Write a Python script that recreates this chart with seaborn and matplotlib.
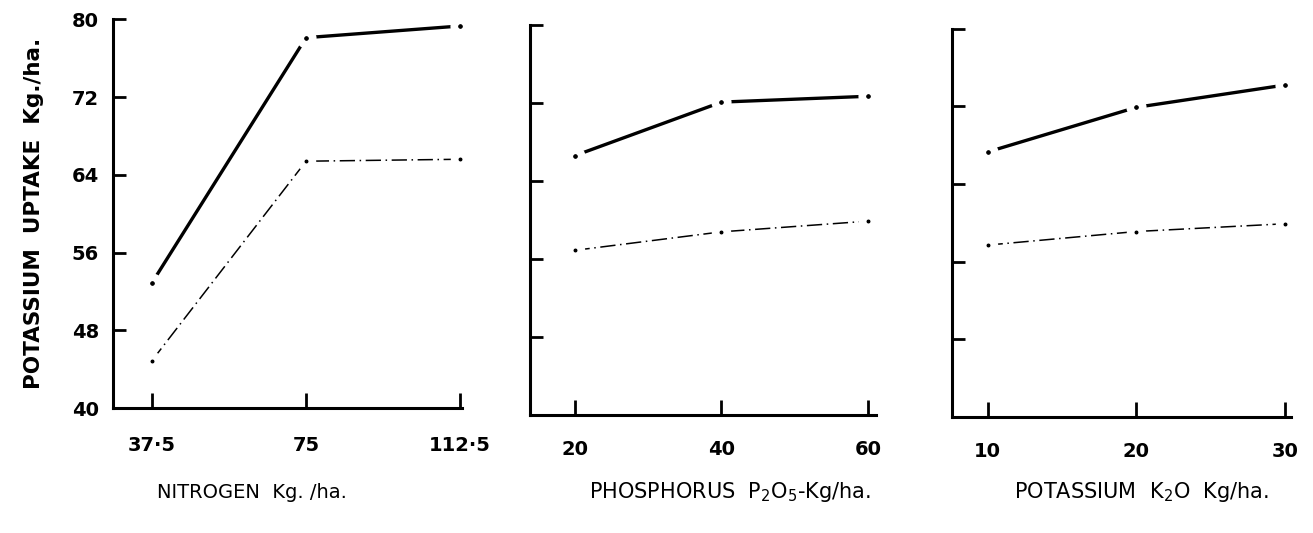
import numpy as np
import pandas as pd
import matplotlib
matplotlib.use("Agg")
import matplotlib.pyplot as plt
import seaborn as sns

# ---- data ----
n_levels = [37.5, 75, 112.5]
n_upper = [52.9, 78.1, 79.3]
n_lower = [44.9, 65.4, 65.6]
n_ticklabels = ["37·5", "75", "112·5"]

p_levels = [20, 40, 60]
p_upper = [66.6, 72.1, 72.7]
p_lower = [56.9, 58.8, 59.9]
p_ticklabels = ["20", "40", "60"]

k_levels = [10, 20, 30]
k_upper = [67.3, 71.9, 74.2]
k_lower = [57.7, 59.1, 59.9]
k_ticklabels = ["10", "20", "30"]

y_ticks = [40, 48, 56, 64, 72, 80]
y_ticklabels = ["40", "48", "56", "64", "72", "80"]

xlabels = ["NITROGEN  Kg. /ha.",
           r"PHOSPHORUS  P$_2$O$_5$-Kg/ha.",
           r"POTASSIUM  K$_2$O  Kg/ha."]
ylabel = "POTASSIUM  UPTAKE  Kg./ha."

sns.set_style("white")
plt.rcParams['font.family'] = ['DejaVu Sans']
plt.rcParams['text.color'] = 'black'
plt.rcParams['axes.labelcolor'] = 'black'
plt.rcParams['xtick.color'] = 'black'
plt.rcParams['ytick.color'] = 'black'

fig = plt.figure(figsize=(13.13, 5.33), dpi=100)
positions = [
    [0.086, 0.234, 0.266, 0.730],
    [0.404, 0.221, 0.263, 0.732],
    [0.725, 0.218, 0.258, 0.728],
]
xlims = [(28, 113), (14, 61), (7.6, 30.4)]
label_centers = [252, 730, 1142]
label_sizes = [14, 15, 15]
panels = [
    (n_levels, n_upper, n_lower, n_ticklabels),
    (p_levels, p_upper, p_lower, p_ticklabels),
    (k_levels, k_upper, k_lower, k_ticklabels),
]

for i, (pos, (lv, up, lo, tl)) in enumerate(zip(positions, panels)):
    ax = fig.add_axes(pos)
    df = pd.DataFrame({
        "x": list(lv) * 2,
        "y": list(up) + list(lo),
        "series": ["upper"] * 3 + ["lower"] * 3,
    })
    sns.lineplot(data=df[df.series == "upper"], x="x", y="y", ax=ax,
                 color="black", linewidth=2.4, marker="o", markersize=9,
                 markerfacecolor="black", markeredgecolor="white",
                 markeredgewidth=5.5, legend=False)
    sns.lineplot(data=df[df.series == "lower"], x="x", y="y", ax=ax,
                 color="black", linewidth=1.1, linestyle=(0, (10, 3, 1, 3)),
                 marker="o", markersize=8.5, markerfacecolor="black",
                 markeredgecolor="white", markeredgewidth=5.5, legend=False)
    ax.set_xlim(*xlims[i])
    ax.set_ylim(40, 80)
    ax.set_xticks(lv)
    ax.set_xticklabels(tl, fontsize=14, fontweight="bold")
    ax.set_yticks(y_ticks)
    if i == 0:
        ax.set_yticklabels(y_ticklabels, fontsize=14, fontweight="bold")
        ax.set_ylabel(ylabel, fontsize=15.5, fontweight="bold", labelpad=20)
    else:
        ax.set_yticklabels([])
        ax.set_ylabel("")
    ax.set_xlabel("")
    fig.text(label_centers[i] / 1313, 1 - 492 / 533, xlabels[i],
             fontsize=label_sizes[i], ha="center", va="center")
    for s in ["top", "right"]:
        ax.spines[s].set_visible(False)
    for s in ["left", "bottom"]:
        ax.spines[s].set_linewidth(2.2)
        ax.spines[s].set_color("black")
    ax.tick_params(axis="x", bottom=True, direction="in", length=11, width=2,
                   pad=20 if i == 0 else 18, colors="black")
    ax.tick_params(axis="y", left=True, direction="in", length=9, width=2,
                   pad=10, colors="black")

fig.savefig("out.png", dpi=100)
